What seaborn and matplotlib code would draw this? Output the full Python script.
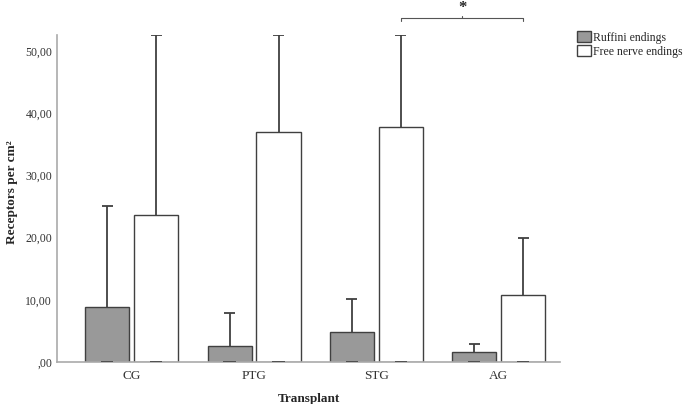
import matplotlib
matplotlib.use("Agg")
import matplotlib.pyplot as plt
import seaborn as sns
import pandas as pd
from matplotlib.patches import Patch
from matplotlib.ticker import FuncFormatter

# -------------------------------
# data
# -------------------------------
groups = ["CG", "PTG", "STG", "AG"]
series = ["Ruffini endings", "Free nerve endings"]
ruffini = [8.9, 2.6, 4.9, 1.55]
ruffini_err = [16.2, 5.3, 5.2, 1.35]
free = [23.7, 37.0, 37.8, 10.7]
free_err = [28.9, 15.6, 14.8, 9.3]

df = pd.DataFrame({
    "group": groups * 2,
    "kind": [series[0]] * 4 + [series[1]] * 4,
    "value": ruffini + free,
})
errs = ruffini_err + free_err

sns.set_style("white")
plt.rcParams["font.family"] = ["Liberation Serif", "DejaVu Serif"]

fig = plt.figure(figsize=(6.85, 4.04), dpi=100)
ax = fig.add_axes([0.0832, 0.104, 0.7343, 0.8096])

sns.barplot(data=df, x="group", y="value", hue="kind", order=groups,
            hue_order=series, palette=["#999999", "#ffffff"],
            errorbar=None, width=0.8, gap=0.1, edgecolor="#404040",
            linewidth=1.0, legend=False, ax=ax)

# one-sided error bars on top of each bar (SPSS style)
centers = {}
for p in list(ax.patches):
    cx = p.get_x() + p.get_width() / 2
    h = p.get_height()
    idx = [i for i, v in enumerate(df["value"]) if abs(v - h) < 1e-9][0]
    centers[(df["group"][idx], df["kind"][idx])] = cx
    top = h + errs[idx]
    ax.vlines(cx, h, top, color="#404040", lw=1.3, zorder=1)
    ax.hlines(top, cx - 0.045, cx + 0.045, color="#404040", lw=1.3, zorder=1)
    ax.hlines(0, cx - 0.05, cx + 0.05, color="#404040", lw=1.2, zorder=3)

ax.set_xlim(-0.61, 3.5)
ax.set_ylim(0, 52.6)
ax.set_yticks([0, 10, 20, 30, 40, 50])
ax.yaxis.set_major_formatter(FuncFormatter(
    lambda v, _: ",00" if v == 0 else f"{v:.2f}".replace(".", ",")))
ax.tick_params(axis="both", length=0, labelsize=8.5, colors="#333333")
ax.tick_params(axis="x", pad=6, labelsize=9.5)
ax.set_xlabel("Transplant", fontsize=9.5, fontweight="bold", labelpad=8)
ax.set_ylabel("Receptors per cm²", fontsize=9.5, fontweight="bold")
ax.yaxis.set_label_coords(-0.078, 0.52)

for s in ["top", "right"]:
    ax.spines[s].set_visible(False)
for s in ["left", "bottom"]:
    ax.spines[s].set_color("#aaaaaa")
    ax.spines[s].set_linewidth(1.2)

# significance bracket STG vs AG (free nerve endings)
x1 = centers[("STG", series[1])]
x2 = centers[("AG", series[1])]
yb = 55.3
ax.plot([x1, x1, x2, x2], [yb - 0.4, yb, yb, yb - 0.4], color="#555555",
        lw=0.8, clip_on=False)
ax.plot([(x1 + x2) / 2] * 2, [yb, yb + 0.4], color="#555555", lw=0.8,
        clip_on=False)
ax.text((x1 + x2) / 2, 56.9, "*", ha="center", va="center",
        fontsize=12, fontweight="bold", clip_on=False)

handles = [Patch(facecolor="#999999", edgecolor="#404040", label=series[0]),
           Patch(facecolor="#ffffff", edgecolor="#404040", label=series[1])]
fig.legend(handles=handles, loc="upper left", bbox_to_anchor=(0.835, 0.935),
           frameon=False, fontsize=8.5, handlelength=1.2, handleheight=1.1,
           handletextpad=0.2, labelspacing=0.1, borderaxespad=0)

fig.savefig("out.png", dpi=100)
